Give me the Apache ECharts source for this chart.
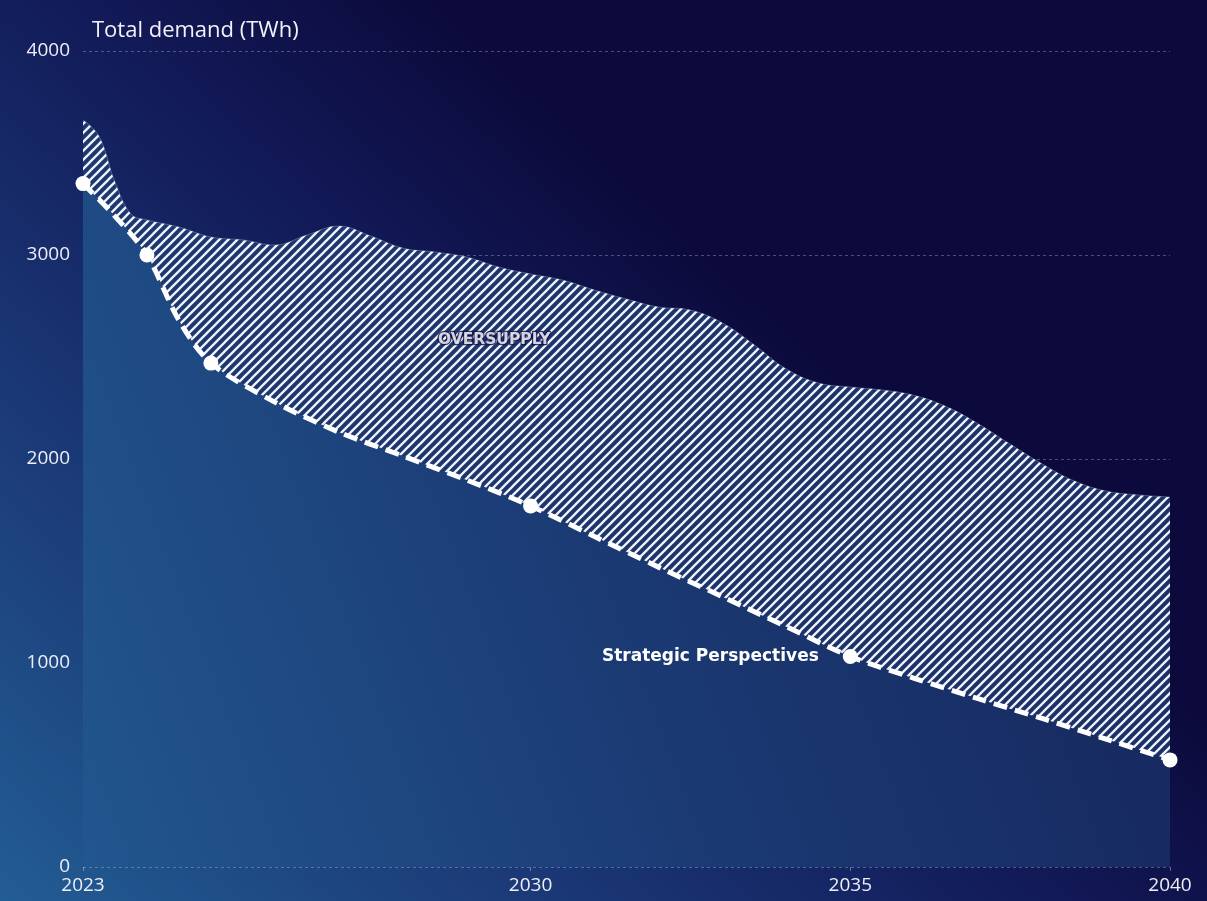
<!DOCTYPE html>
<html>
<head>
<meta charset="utf-8">
<script src="https://cdn.jsdelivr.net/npm/echarts@6/dist/echarts.min.js"></script>
<style>
  html, body { margin: 0; padding: 0; background: #0b0838; }
  #chart { width: 1207px; height: 901px; }
</style>
</head>
<body>
<div id="chart"></div>
<script>
// supply (upper edge of the hatched area), every half year
var supplyYears = [2023, 2023.25, 2023.5, 2023.75, 2024, 2024.5, 2025, 2025.5, 2026, 2026.5, 2027, 2027.5,
  2028, 2028.5, 2029, 2029.5, 2030, 2030.5, 2031, 2031.5, 2032, 2032.5, 2033, 2033.5, 2034, 2034.5,
  2035, 2035.5, 2036, 2036.5, 2037, 2037.5, 2038, 2038.5, 2039, 2039.5, 2040];
var supplyValues = [3662, 3583, 3358, 3201, 3172, 3137, 3088, 3074, 3049, 3098, 3142, 3093,
  3034, 3015, 2990, 2941, 2907, 2877, 2828, 2784, 2745, 2730, 2667, 2559, 2441, 2373,
  2353, 2338, 2312, 2257, 2173, 2073, 1976, 1893, 1843, 1824, 1814];

// demand - Strategic Perspectives (dashed line)
var demandYears = [2023, 2023.5, 2024, 2024.5, 2025, 2026, 2027, 2028, 2029, 2030,
  2031, 2032, 2033, 2034, 2035, 2036, 2037, 2038, 2039, 2040];
var demandValues = [3350, 3190, 3000, 2680, 2470, 2279, 2132, 2015, 1897, 1770,
  1620, 1470, 1325, 1178, 1032, 925, 825, 728, 627, 525];

// white dots on the dashed line
var markerYears = [2023, 2024, 2025, 2030, 2035, 2040];
var markerValues = [3350, 3000, 2470, 1770, 1032, 525];

var xTickLabels = [2023, 2030, 2035, 2040];

function pairs(xs, ys) {
  return xs.map(function (x, i) { return [x, ys[i]]; });
}

// hatch pattern "/"
function hatch() {
  var s = 9;
  var c = document.createElement('canvas');
  c.width = s; c.height = s;
  var ctx = c.getContext('2d');
  ctx.strokeStyle = '#eef2fb';
  ctx.lineWidth = 2.3;
  ctx.beginPath();
  ctx.moveTo(0, s); ctx.lineTo(s, 0);
  ctx.moveTo(-2, 2); ctx.lineTo(2, -2);
  ctx.moveTo(s - 2, s + 2); ctx.lineTo(s + 2, s - 2);
  ctx.stroke();
  return c;
}

var myChart = echarts.init(document.getElementById('chart'));

var labelFont = '"Open Sans", "Noto Sans", sans-serif';

var oversupplyLabel = {
  name: 'OVERSUPPLY', value: [2029.43, 2583]
};

// background: light blue bottom-left fading to dark navy top-right
var bg = new echarts.graphic.LinearGradient(0, 901, 648, 203, [
  { offset: 0, color: '#225d93' },
  { offset: 0.4, color: '#1b3876' },
  { offset: 0.75, color: '#121a58' },
  { offset: 1, color: '#0c0a3c' }
], true);

var option = {
  animation: false,
  backgroundColor: bg,
  title: {
    text: 'Total demand (TWh)',
    left: 92,
    top: 20,
    padding: 0,
    textStyle: {
      color: '#f2f2f8',
      fontSize: 22,
      fontWeight: 'normal',
      fontFamily: labelFont
    }
  },
  grid: {
    left: 83,
    right: 37,
    top: 51,
    bottom: 34
  },
  xAxis: {
    type: 'value',
    min: 2023,
    max: 2040,
    axisLine: { show: false },
    splitLine: { show: false },
    axisTick: {
      show: true,
      customValues: xTickLabels,
      length: 4,
      lineStyle: { color: 'rgba(255,255,255,0.35)' }
    },
    axisLabel: {
      customValues: xTickLabels,
      color: '#eeeef6',
      fontSize: 19,
      fontFamily: labelFont,
      margin: 9,
      formatter: function (v) { return String(v); }
    }
  },
  yAxis: {
    type: 'value',
    min: 0,
    max: 4000,
    interval: 1000,
    axisLine: { show: false },
    axisTick: { show: false },
    axisLabel: {
      color: '#eeeef6',
      fontSize: 19,
      fontFamily: labelFont,
      margin: 13,
      formatter: function (v) { return String(v); }
    },
    splitLine: {
      lineStyle: {
        color: 'rgba(200,205,230,0.35)',
        type: [3, 3],
        width: 1
      }
    }
  },
  series: [
    {
      // backing colour of the hatched area
      name: 'supplyBase',
      type: 'line',
      smooth: 0.4,
      symbol: 'none',
      data: pairs(supplyYears, supplyValues),
      lineStyle: { width: 0 },
      areaStyle: {
        opacity: 1,
        color: new echarts.graphic.LinearGradient(0, 0, 1, 0, [
          { offset: 0, color: '#1d386f' },
          { offset: 1, color: '#1b3066' }
        ])
      },
      z: 1
    },
    {
      name: 'supplyHatch',
      type: 'line',
      smooth: 0.4,
      symbol: 'none',
      data: pairs(supplyYears, supplyValues),
      lineStyle: { width: 1, color: 'rgba(200,210,235,0.3)' },
      areaStyle: {
        opacity: 1,
        color: { image: hatch(), repeat: 'repeat' }
      },
      z: 2
    },
    {
      name: 'Strategic Perspectives',
      type: 'line',
      smooth: 0.3,
      symbol: 'none',
      data: pairs(demandYears, demandValues),
      lineStyle: {
        color: '#ffffff',
        width: 5,
        type: [14, 8],
        cap: 'butt'
      },
      areaStyle: {
        opacity: 1,
        color: new echarts.graphic.LinearGradient(0, 1, 1, 0.4, [
          { offset: 0, color: '#22568e' },
          { offset: 0.5, color: '#1b3a74' },
          { offset: 1, color: '#16265c' }
        ])
      },
      z: 3
    },
    {
      name: 'markers',
      type: 'scatter',
      symbol: 'circle',
      symbolSize: 15,
      itemStyle: { color: '#ffffff', opacity: 1 },
      data: pairs(markerYears, markerValues).map(function (p, i) {
        if (markerYears[i] === 2035) {
          return {
            value: p,
            label: {
              show: true,
              position: 'left',
              distance: 24,
              formatter: 'Strategic Perspectives',
              color: '#ffffff',
              fontSize: 17,
              fontWeight: 'bold',
              fontFamily: '"DejaVu Sans", sans-serif'
            }
          };
        }
        return p;
      }),
      z: 5
    },
    {
      name: 'annotation',
      type: 'scatter',
      symbolSize: 0,
      silent: true,
      data: [oversupplyLabel],
      label: {
        show: true,
        position: 'inside',
        formatter: '{b}',
        color: '#ffffff',
        fontSize: 15.5,
        fontWeight: 'bold',
        fontFamily: '"DejaVu Sans", sans-serif',
        textBorderColor: '#0d0b45',
        textBorderWidth: 2.5
      },
      z: 6
    }
  ]
};

myChart.setOption(option);

window.addEventListener('resize', function () {
  myChart.resize();
});
</script>
</body>
</html>
